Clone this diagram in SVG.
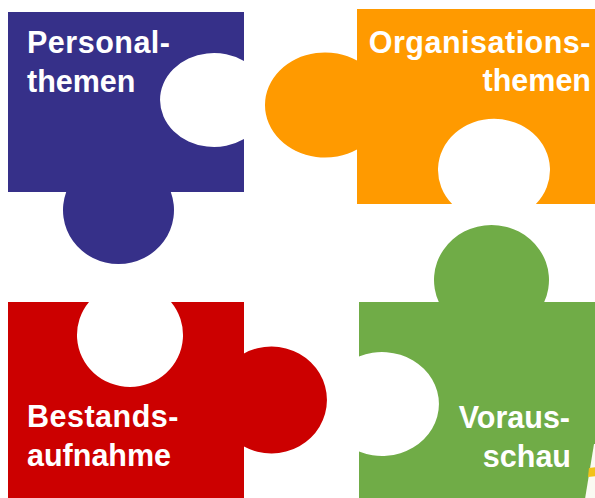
<svg xmlns="http://www.w3.org/2000/svg" width="595" height="498" viewBox="0 0 595 498">
  <style>
    .lbl { font-family: "Liberation Sans", Arial, sans-serif; font-weight: bold; font-size: 30.5px; fill: #ffffff; }
    .end { text-anchor: end; }
    .wide { letter-spacing: 0.5px; }
  </style>
  <rect x="0" y="0" width="595" height="498" fill="#ffffff"/>
  <g id="personalthemen">
    <path fill="#363089" d="M8,12 H244 V60.9 A54,47 0 1 0 244,139.1 V192 H170.8 A55.5,54 0 1 1 66.2,192 H8 Z"/>
    <text class="lbl wide" x="27" y="53">Personal-</text>
    <text class="lbl" x="27" y="91.5">themen</text>
  </g>
  <g id="organisationsthemen">
    <path fill="#FF9A00" d="M357,9 H600 V204 H535.9 A56,51.2 0 1 0 452.1,204 H357 V149.4 A60,52.5 0 1 1 357,60.6 Z"/>
    <text class="lbl end wide" x="591" y="53">Organisations-</text>
    <text class="lbl end" x="591" y="90.5">themen</text>
  </g>
  <g id="bestandsaufnahme">
    <path fill="#CC0000" d="M8,302 H89 A53,52 0 1 0 171,302 H244 V353.5 A55.5,53.5 0 1 1 244,446.5 V500 H8 Z"/>
    <text class="lbl wide" x="27" y="427">Bestands-</text>
    <text class="lbl" x="27" y="466">aufnahme</text>
  </g>
  <g id="vorausschau">
    <path fill="#70AC47" d="M359,302 H438.8 A57.5,55 0 1 1 544.2,302 H600 V500 H359 V451.6 A57,52 0 1 0 359,356.4 Z"/>
    <text class="lbl end" x="570" y="428">Voraus-</text>
    <text class="lbl end" x="571" y="466.5">schau</text>
  </g>
  <g id="corner-fragment">
    <polygon fill="#FAFAF2" points="594,444 596,444 596,499 585,499"/>
    <polygon fill="#F2C21A" points="589,468 596,467 596,476 588,477"/>
  </g>
  <g id="connectors"/>
</svg>
